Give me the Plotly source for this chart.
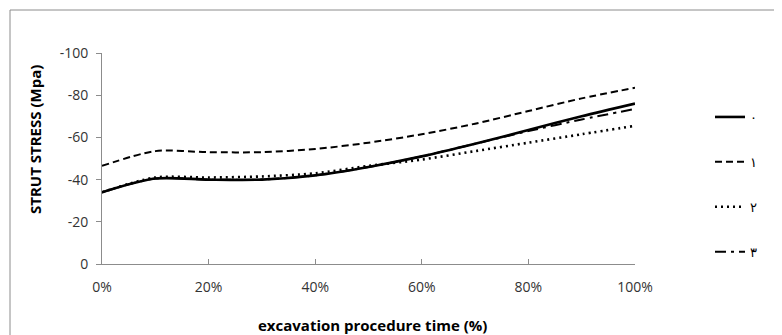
import plotly.graph_objects as go

# Data (excavation procedure time %, strut stress MPa)
time_pct = [0, 10, 20, 30, 40, 50, 60, 70, 80, 90, 100]
s0 = [-34, -40.5, -40, -40, -42, -46, -51, -57, -63.5, -70, -76]
s1 = [-46.5, -53.5, -53, -53, -54.5, -57.5, -61.5, -66.5, -72.5, -78.5, -83.5]
s2 = [-34, -41, -41, -41.5, -43, -46.5, -49.5, -53.5, -57.5, -61.5, -65.5]
s3 = [-34, -40.5, -40, -40, -42, -46, -51, -57, -63, -68.5, -73.5]
names = ["۰", "۱", "۲", "۳"]
x_ticks = [0, 20, 40, 60, 80, 100]
x_labels = ["0%", "20%", "40%", "60%", "80%", "100%"]
y_ticks = [0, -20, -40, -60, -80, -100]
y_labels = ["0", "-20", "-40", "-60", "-80", "-100"]

series = [s0, s1, s2, s3]
styles = [
    dict(dash="solid", width=2.6),
    dict(dash="7px,4px", width=2),
    dict(dash="2px,4px", width=2.6),
    dict(dash="11px,5px,3px,5px", width=2),
]

fig = go.Figure()
for i, (vals, st) in enumerate(zip(series, styles)):
    fig.add_trace(go.Scatter(
        x=time_pct, y=vals, mode="lines", name=names[i],
        legendgroup=f"g{i}",
        line=dict(color="black", shape="spline", smoothing=0.8, **st),
    ))

# layout geometry (page body adds 8px offset)
L, T, W, H = 94, 45, 533, 211
def px(X):
    return (X - L) / W
def py(Y):
    return (T + H - Y) / H

axis_color = "#8c8c8c"
tick_font = dict(family="Open Sans, Liberation Sans, sans-serif", size=14, color="#333333")

fig.update_layout(
    width=782, height=335,
    margin=dict(l=L, r=782 - L - W, t=T, b=335 - T - H),
    paper_bgcolor="white", plot_bgcolor="white",
    showlegend=True,
    legend=dict(
        x=px(702), xanchor="left", y=py(94), yanchor="top",
        font=dict(family="DejaVu Sans, Noto Sans, sans-serif", size=13, color="black"),
        tracegroupgap=25, bgcolor="rgba(0,0,0,0)",
    ),
    xaxis=dict(
        range=[0, 100], tickmode="array", tickvals=x_ticks, ticktext=x_labels,
        showgrid=False, zeroline=False, showline=True, linecolor=axis_color, linewidth=1,
        ticks="inside", ticklen=5, tickcolor=axis_color, tickfont=tick_font,
        ticklabelstandoff=10,
    ),
    yaxis=dict(
        range=[0, -100], tickmode="array", tickvals=y_ticks, ticktext=y_labels,
        showgrid=False, zeroline=False, showline=True, linecolor=axis_color, linewidth=1,
        ticks="outside", ticklen=5, tickcolor=axis_color, tickfont=tick_font,
        ticklabelstandoff=5,
    ),
    annotations=[
        dict(text="<b>STRUT STRESS (Mpa)</b>", textangle=-90, xref="paper", yref="paper",
             x=px(27), y=py(132), xanchor="center", yanchor="middle",
             showarrow=False, font=dict(family="Open Sans, sans-serif", size=15, color="black")),
        dict(text="<b>excavation procedure time (%)</b>", xref="paper", yref="paper",
             x=px(364), y=py(317), xanchor="center", yanchor="middle",
             showarrow=False, font=dict(family="Open Sans, sans-serif", size=15, color="black")),
    ],
    shapes=[
        dict(type="rect", xref="paper", yref="paper",
             x0=px(2), x1=px(767), y0=py(345), y1=py(2),
             line=dict(color="#8c8c8c", width=1), fillcolor="rgba(0,0,0,0)", layer="below"),
    ],
)

fig.write_html("out.html")
